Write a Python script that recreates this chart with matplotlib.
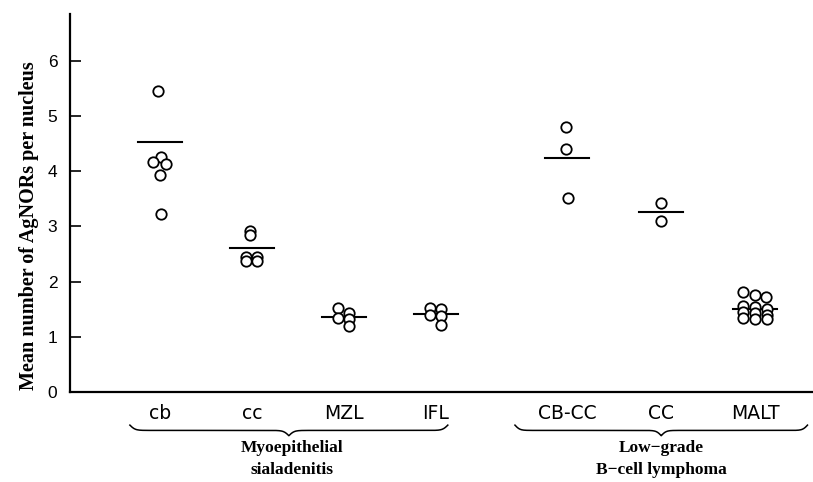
import numpy as np
import matplotlib
matplotlib.use('Agg')
from matplotlib import pyplot as plt
import matplotlib.transforms as mtransforms

# categorias e valores
categorias = ['cb', 'cc', 'MZL', 'IFL', 'CB-CC', 'CC', 'MALT']
cb = [5.45, 4.26, 4.17, 4.13, 3.93, 3.22]
cc = [2.92, 2.84, 2.45, 2.45, 2.37, 2.37]
mzl = [1.52, 1.34, 1.43, 1.32, 1.20]
ifl = [1.52, 1.39, 1.50, 1.38, 1.21]
cb_cc = [4.80, 4.40, 3.51]
cc_linf = [3.42, 3.10]
malt = [1.81, 1.76, 1.72, 1.56, 1.45, 1.34, 1.53, 1.43, 1.32, 1.50, 1.40, 1.32]
medias = [4.53, 2.61, 1.36, 1.41, 4.24, 3.26, 1.50]
grupos = ['Myoepithelial\nsialadenitis', 'Low\u2212grade\nB\u2212cell lymphoma']

valores = [cb, cc, mzl, ifl, cb_cc, cc_linf, malt]

# posicoes no eixo x e deslocamentos (em pixels) dos circulos
posicoes = [1, 2, 3, 4, 5.43, 6.45, 7.47]
desloc_px = [
    [-2, 1, -7, 6, 0, 1],
    [-2, -2, -6, 5, -6, 5],
    [-6, -6, 5, 5, 5],
    [-6, -6, 5, 5, 5],
    [-1, -1, 1],
    [0, 0],
    [-12, 0, 11, -12, -12, -12, 0, 0, 0, 12, 12, 12],
]
px_por_unidade = 92.0

fig = plt.figure(figsize=(8.13, 4.82), dpi=100)
ax = fig.add_axes([0.086, 0.187, 0.914, 0.784])

for pos, vals, dx, m in zip(posicoes, valores, desloc_px, medias):
    x = pos + np.array(dx) / px_por_unidade
    ax.plot(x, vals, 'o', mfc='white', mec='black', ms=7.5, mew=1.3,
            linestyle='none', clip_on=False, zorder=3)
    ax.plot([pos - 0.24, pos + 0.24], [m, m], color='black', lw=1.5, zorder=2)

ax.set_xlim(0.022, 8.10)
ax.set_ylim(0, 6.85)
ax.spines['top'].set_visible(False)
ax.spines['right'].set_visible(False)
ax.spines['left'].set_linewidth(1.6)
ax.spines['bottom'].set_linewidth(1.6)

ax.set_yticks(range(0, 7))
ax.tick_params(axis='y', direction='in', length=8, width=1.2, pad=9,
               labelsize=12.5)
for lbl in ax.get_yticklabels():
    lbl.set_fontfamily('Liberation Sans')
ax.set_xticks(posicoes)
ax.set_xticklabels(categorias, fontsize=13.5, family='DejaVu Sans')
ax.tick_params(axis='x', length=0, pad=9)

ax.set_ylabel('Mean number of AgNORs per nucleus', family='Liberation Serif',
              fontweight='bold', fontsize=14.5)
ax.yaxis.set_label_coords(-0.041, 0.44)


# chaves por baixo dos grupos
def chave(ax, x0, x1, y, altura, beta=60.0):
    trans = mtransforms.blended_transform_factory(ax.transData, ax.transAxes)
    metade = (x1 - x0) / 2
    t = np.linspace(0, 1, 200)
    yh = 1 / (1 + np.exp(-beta * t)) + 1 / (1 + np.exp(-beta * (t - 1)))
    yh = yh - 0.5
    xs = np.concatenate([x0 + t * metade, x1 - t[::-1] * metade])
    ys = np.concatenate([yh, yh[::-1]])
    ax.plot(xs, y - altura * ys, color='black', lw=1.1, transform=trans,
            clip_on=False)
    return trans


trans = chave(ax, 0.674, 4.13, -0.088, 0.028)
chave(ax, 4.86, 8.04, -0.088, 0.028)

for xc, texto in zip([2.44, 6.45], grupos):
    ax.text(xc, -0.128, texto, transform=trans, ha='center', va='top',
            family='Liberation Serif', fontweight='bold', fontsize=12.5,
            linespacing=1.45)

fig.savefig('out.png', dpi=100)
